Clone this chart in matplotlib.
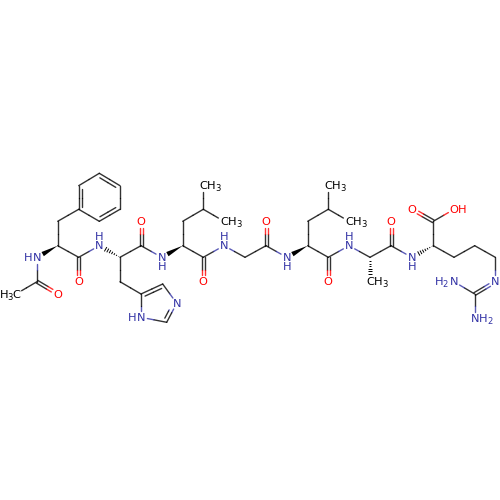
import numpy as np
import matplotlib
matplotlib.use("Agg")
import matplotlib.pyplot as plt

# atoms: id, x, y, element
ATOM_ID = ["Me","Ac","AcO","N1","A1","B1","R1","R2","R3","R4","R5","R6","C1","O1",
           "N2","A2","C2","O2","B2","I1","I2","I3","I4","I5",
           "N3","A3","B3","G3","D3a","D3b","C3","O3",
           "N4","A4","C4","O4",
           "N5","A5","B5","G5","D5a","D5b","C5","O5",
           "N6","A6","M6","C6","O6",
           "N7","A7","C7","O7a","O7b","B7","G7","D7","E7","Z7","Na","Nb"]
ATOM_X = [16,37,57.7,37,57.7,57.7,78.7,78.7,99.3,120,120,99.3,78.7,78.7,
          99.3,120,141,141,120,141,162.7,176.7,166.7,141,
          161.7,182.7,182.7,203.3,203.3,224,203.3,203.3,
          224,245,266,266,
          286.7,307.7,307.7,328.3,328.3,349,328.3,328.3,
          349,370,370,391,391,
          411.7,433.3,433.3,412.3,454,454,474.7,495.3,495.3,474.7,454,474.7]
ATOM_Y = [294,281.7,294,257.3,245.7,221.3,209.3,185.7,173.3,185.7,209.3,221.3,257.3,281.7,
          245.7,257.3,245.7,221.3,281.7,294,284,303.3,322.3,317.3,
          257.3,245.7,221.3,209.3,185.7,221.3,257.3,281.7,
          245.7,257.3,245.7,221.3,
          257.3,245.7,221.3,209.3,185.7,221.3,257.3,281.7,
          245.7,257.3,281.7,245.7,221.3,
          257.3,245.7,221.3,209.3,209.3,257.3,245.7,257.3,281.7,294,281.7,318]
ATOM_EL = ["C","C","O","N","C","C","C","C","C","C","C","C","C","O",
           "N","C","C","O","C","C","C","N","C","N",
           "N","C","C","C","C","C","C","O",
           "N","C","C","O",
           "N","C","C","C","C","C","C","O",
           "N","C","C","C","O",
           "N","C","C","O","O","C","C","C","N","C","N","N"]

# element colours
ELEMENT_COLOR = {"C": "#000000", "N": "#3232a5", "O": "#ff0000"}

# labels: atom id -> list of (text piece, dx, dy, small?)
CH3 = [("C",0,0,0),("H",8,0,0),("3",14.5,2.5,1)]
LABELS = {
    "Me": [("H",-12,0,0),("3",-6,2.5,1),("C",0,0,0)],
    "AcO": [("O",0,0,0)], "O1": [("O",0,0,0)], "O2": [("O",0,0,0)], "O3": [("O",0,0,0)],
    "O4": [("O",0,0,0)], "O5": [("O",0,0,0)], "O6": [("O",0,0,0)], "O7a": [("O",0,0,0)],
    "O7b": [("O",0,0,0),("H",8.5,0,0)],
    "N1": [("H",-8.5,0,0),("N",0,0,0)], "I5": [("H",-8.5,0,0),("N",0,0,0)],
    "I3": [("N",0,0,0)], "E7": [("N",0,0,0)],
    "N2": [("N",0,0,0),("H",0,-9.5,0)], "N3": [("N",0,0,0),("H",0,9.5,0)],
    "N4": [("N",0,0,0),("H",0,-9.5,0)], "N5": [("N",0,0,0),("H",0,9.5,0)],
    "N6": [("N",0,0,0),("H",0,-9.5,0)], "N7": [("N",0,0,0),("H",0,9.5,0)],
    "D3a": CH3, "D3b": CH3, "D5a": CH3, "D5b": CH3, "M6": CH3,
    "Na": [("H",-15,0,0),("2",-8.7,2.5,1),("N",0,0,0)],
    "Nb": [("N",0,0,0),("H",8.5,0,0),("2",15,2.5,1)],
}

BONDS_SINGLE = [("Me","Ac"),("Ac","N1"),("A1","B1"),("B1","R1"),("R2","R3"),("R4","R5"),("R6","R1"),
                ("A1","C1"),("C1","N2"),("A2","C2"),("C2","N3"),("A2","B2"),("B2","I1"),
                ("I2","I3"),("I4","I5"),("I5","I1"),
                ("A3","B3"),("B3","G3"),("G3","D3a"),("G3","D3b"),("A3","C3"),("C3","N4"),
                ("N4","A4"),("A4","C4"),("C4","N5"),("A5","B5"),("B5","G5"),("G5","D5a"),("G5","D5b"),
                ("A5","C5"),("C5","N6"),("N6","A6"),("A6","C6"),("C6","N7"),
                ("A7","C7"),("C7","O7b"),("A7","B7"),("B7","G7"),("G7","D7"),("D7","E7"),
                ("Z7","Na"),("Z7","Nb")]
BONDS_DOUBLE_CENTERED = [("Ac","AcO"),("C1","O1"),("C2","O2"),("C3","O3"),("C4","O4"),("C5","O5"),
                         ("C6","O6"),("C7","O7a"),("Z7","E7")]
BONDS_DOUBLE_RING = [("R1","R2"),("R3","R4"),("R5","R6"),("I1","I2"),("I3","I4")]
WEDGE_SOLID = [("A1","N1"),("A3","N3"),("A5","N5")]
WEDGE_HASH = [("A2","N2"),("A6","M6"),("A7","N7")]

pos = {a: np.array([x, y], float) for a, x, y in zip(ATOM_ID, ATOM_X, ATOM_Y)}
el = dict(zip(ATOM_ID, ATOM_EL))
RING_CENTER = {"R": np.mean([pos[f"R{i}"] for i in range(1, 7)], axis=0),
               "I": np.mean([pos[f"I{i}"] for i in range(1, 6)], axis=0)}

fig = plt.figure(figsize=(5, 5), dpi=100)
ax = fig.add_axes([0, 0, 1, 1])
ax.set_xlim(0, 500); ax.set_ylim(500, 0); ax.axis("off")
LW = 1.0
TRIM = 6.5


def clipped(a, b):
    p, q = pos[a].copy(), pos[b].copy()
    u = (q - p) / np.linalg.norm(q - p)
    tp = TRIM if a in LABELS else 0
    tq = TRIM if b in LABELS else 0
    return p + u * tp, q - u * tq, u


def two_tone(a, b, offset=np.zeros(2), shrink=0.0):
    p, q, u = clipped(a, b)
    mid = (pos[a] + pos[b]) / 2 + offset
    p2, q2 = p + offset + u * shrink, q + offset - u * shrink
    for s, e, c in ((p2, mid, el[a]), (mid, q2, el[b])):
        ax.plot([s[0], e[0]], [s[1], e[1]], color=ELEMENT_COLOR[c], lw=LW, solid_capstyle="round", alpha=0.8)


for a, b in BONDS_SINGLE:
    two_tone(a, b)
for a, b in BONDS_DOUBLE_CENTERED:
    u = pos[b] - pos[a]; u /= np.linalg.norm(u)
    n = np.array([-u[1], u[0]])
    two_tone(a, b, n * 1.5); two_tone(a, b, -n * 1.5)
for a, b in BONDS_DOUBLE_RING:
    two_tone(a, b)
    c = RING_CENTER[a[0]]
    u = pos[b] - pos[a]; u /= np.linalg.norm(u)
    n = np.array([-u[1], u[0]])
    if np.dot(c - pos[a], n) < 0:
        n = -n
    two_tone(a, b, n * 3.6, shrink=2.8)

for a, b in WEDGE_SOLID:
    p, q, u = clipped(a, b)
    n = np.array([-u[1], u[0]]) * 2.4
    ax.fill([p[0], q[0] + n[0], q[0] - n[0]], [p[1], q[1] + n[1], q[1] - n[1]], color="black", lw=0)
for a, b in WEDGE_HASH:
    p, q, u = clipped(a, b)
    n = np.array([-u[1], u[0]])
    length = np.linalg.norm(q - p)
    for d in np.arange(1.5, length + 0.1, 2.5):
        c = p + u * d
        h = 2.6 * d / length
        ax.plot([c[0] - n[0] * h, c[0] + n[0] * h], [c[1] - n[1] * h, c[1] + n[1] * h],
                color="black", lw=0.7, solid_capstyle="butt")

for atom, pieces in LABELS.items():
    x, y = pos[atom]
    col = ELEMENT_COLOR[el[atom]]
    for text, dx, dy, small in pieces:
        ax.text(x + dx, y + dy + 0.6, text, color=col, fontsize=6 if small else 8.2,
                ha="center", va="center", family="DejaVu Sans")

fig.savefig("out.png", dpi=100, facecolor="white")
